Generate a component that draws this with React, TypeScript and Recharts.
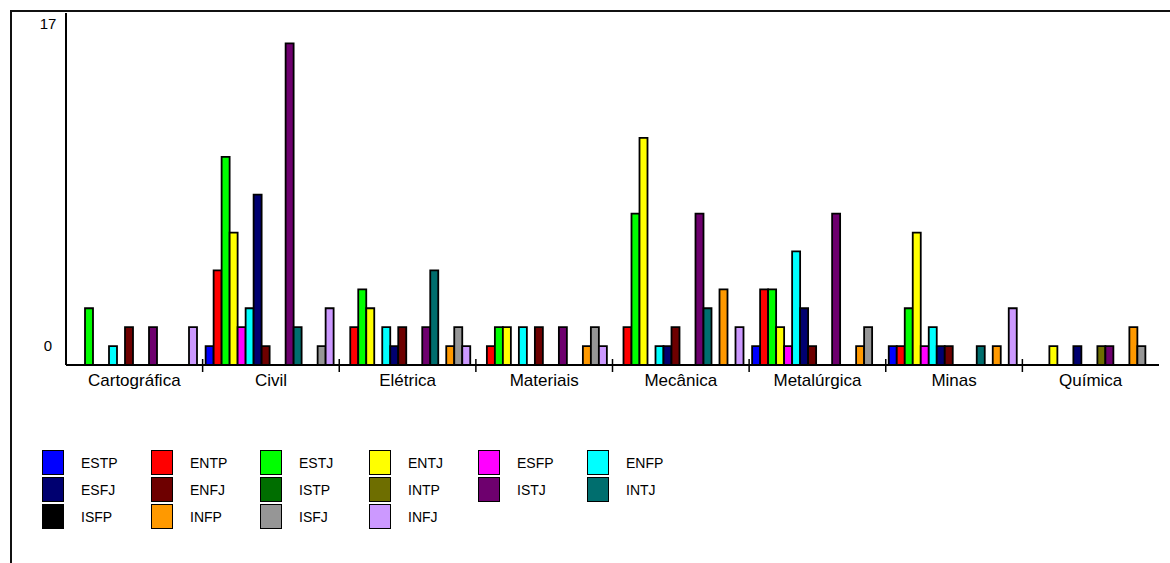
import { BarChart, Bar, XAxis, YAxis } from 'recharts'

const categories = ['Cartográfica', 'Civil', 'Elétrica', 'Materiais', 'Mecânica', 'Metalúrgica', 'Minas', 'Química']

const types = ['ESTP', 'ENTP', 'ESTJ', 'ENTJ', 'ESFP', 'ENFP', 'ESFJ', 'ENFJ', 'ISTP', 'INTP', 'ISTJ', 'INTJ', 'ISFP', 'INFP', 'ISFJ', 'INFJ']

// one array per type, values follow the categories order
const ESTP = [0, 1, 0, 0, 0, 1, 1, 0]
const ENTP = [0, 5, 2, 1, 2, 4, 1, 0]
const ESTJ = [3, 11, 4, 2, 8, 4, 3, 0]
const ENTJ = [0, 7, 3, 2, 12, 2, 7, 1]
const ESFP = [0, 2, 0, 0, 0, 1, 1, 0]
const ENFP = [1, 3, 2, 2, 1, 6, 2, 0]
const ESFJ = [0, 9, 1, 0, 1, 3, 1, 1]
const ENFJ = [2, 1, 2, 2, 2, 1, 1, 0]
const ISTP = [0, 0, 0, 0, 0, 0, 0, 0]
const INTP = [0, 0, 0, 0, 0, 0, 0, 1]
const ISTJ = [2, 17, 2, 2, 8, 8, 0, 1]
const INTJ = [0, 2, 5, 0, 3, 0, 1, 0]
const ISFP = [0, 0, 0, 0, 0, 0, 0, 0]
const INFP = [0, 0, 1, 1, 4, 1, 1, 2]
const ISFJ = [0, 1, 2, 2, 0, 2, 0, 1]
const INFJ = [2, 3, 1, 1, 2, 0, 3, 0]

const yTicks = [0, 17]

const seriesValues = [ESTP, ENTP, ESTJ, ENTJ, ESFP, ENFP, ESFJ, ENFJ, ISTP, INTP, ISTJ, INTJ, ISFP, INFP, ISFJ, INFJ]

const colors = [
  '#0000ff', '#ff0000', '#00ff00', '#ffff00', '#ff00ff', '#00ffff',
  '#000070', '#6e0000', '#006e00', '#6e6e00', '#6e006e', '#006e6e',
  '#000000', '#ff9900', '#969696', '#cc99ff',
]

const data = categories.map((name, i) => {
  const row: Record<string, string | number> = { name }
  types.forEach((t, k) => { row[t] = seriesValues[k][i] })
  return row
})

const FONT = "Arial, 'Liberation Sans', sans-serif"
const PLOT_LEFT = 66
const PLOT_RIGHT = 1159
const BAND = (PLOT_RIGHT - PLOT_LEFT) / categories.length

function XTick(props: any) {
  const { x, y, payload, index } = props
  return (
    <g>
      {index > 0 && (
        <line x1={x - BAND / 2} x2={x - BAND / 2} y1={y - 6} y2={y + 7} stroke="#000" strokeWidth={1.5} />
      )}
      <text x={x} y={y + 21} textAnchor="middle" fontFamily={FONT} fontSize={17} fill="#000">
        {payload.value}
      </text>
    </g>
  )
}

function YTick(props: any) {
  const { y, payload } = props
  return (
    <text x={48} y={y - 14} textAnchor="middle" fontFamily={FONT} fontSize={15} fill="#000">
      {payload.value}
    </text>
  )
}

export default function App() {
  return (
    <div style={{ position: 'absolute', left: 0, top: 0, width: 1170, height: 563, background: '#fff', overflow: 'hidden' }}>
      <div style={{ position: 'absolute', left: 10, top: 10, width: 1160, height: 560, borderTop: '2px solid #111', borderLeft: '2px solid #111' }} />
      <BarChart
        width={1170}
        height={563}
        data={data}
        margin={{ top: 13, right: 1170 - PLOT_RIGHT, left: 10, bottom: 168 }}
        barGap={0}
        barCategoryGap={3}
        style={{ position: 'absolute', left: 0, top: 0 }}
      >
        <XAxis
          dataKey="name"
          height={30}
          tick={<XTick />}
          tickLine={false}
          tickSize={0}
          tickMargin={0}
          axisLine={{ stroke: '#000', strokeWidth: 2 }}
          interval={0}
        />
        <YAxis
          width={56}
          domain={[0, 18.6]}
          ticks={yTicks}
          tick={<YTick />}
          tickLine={false}
          axisLine={{ stroke: '#000', strokeWidth: 2 }}
          allowDataOverflow
        />
        {types.map((t, k) => (
          <Bar key={t} dataKey={t} fill={colors[k]} stroke="#000" strokeWidth={1.8} isAnimationActive={false} />
        ))}
      </BarChart>
      <div style={{ position: 'absolute', left: 42, top: 450, fontFamily: FONT, fontSize: 14 }}>
        {types.map((t, k) => (
          <div
            key={t}
            style={{
              position: 'absolute',
              left: (k % 6) * 109,
              top: Math.floor(k / 6) * 27,
              display: 'flex',
              alignItems: 'center',
              height: 25,
              whiteSpace: 'nowrap',
            }}
          >
            <span style={{ width: 20, height: 23, background: colors[k], border: '1px solid #000', boxSizing: 'content-box', display: 'inline-block' }} />
            <span style={{ marginLeft: 17, color: '#000' }}>{t}</span>
          </div>
        ))}
      </div>
    </div>
  )
}
